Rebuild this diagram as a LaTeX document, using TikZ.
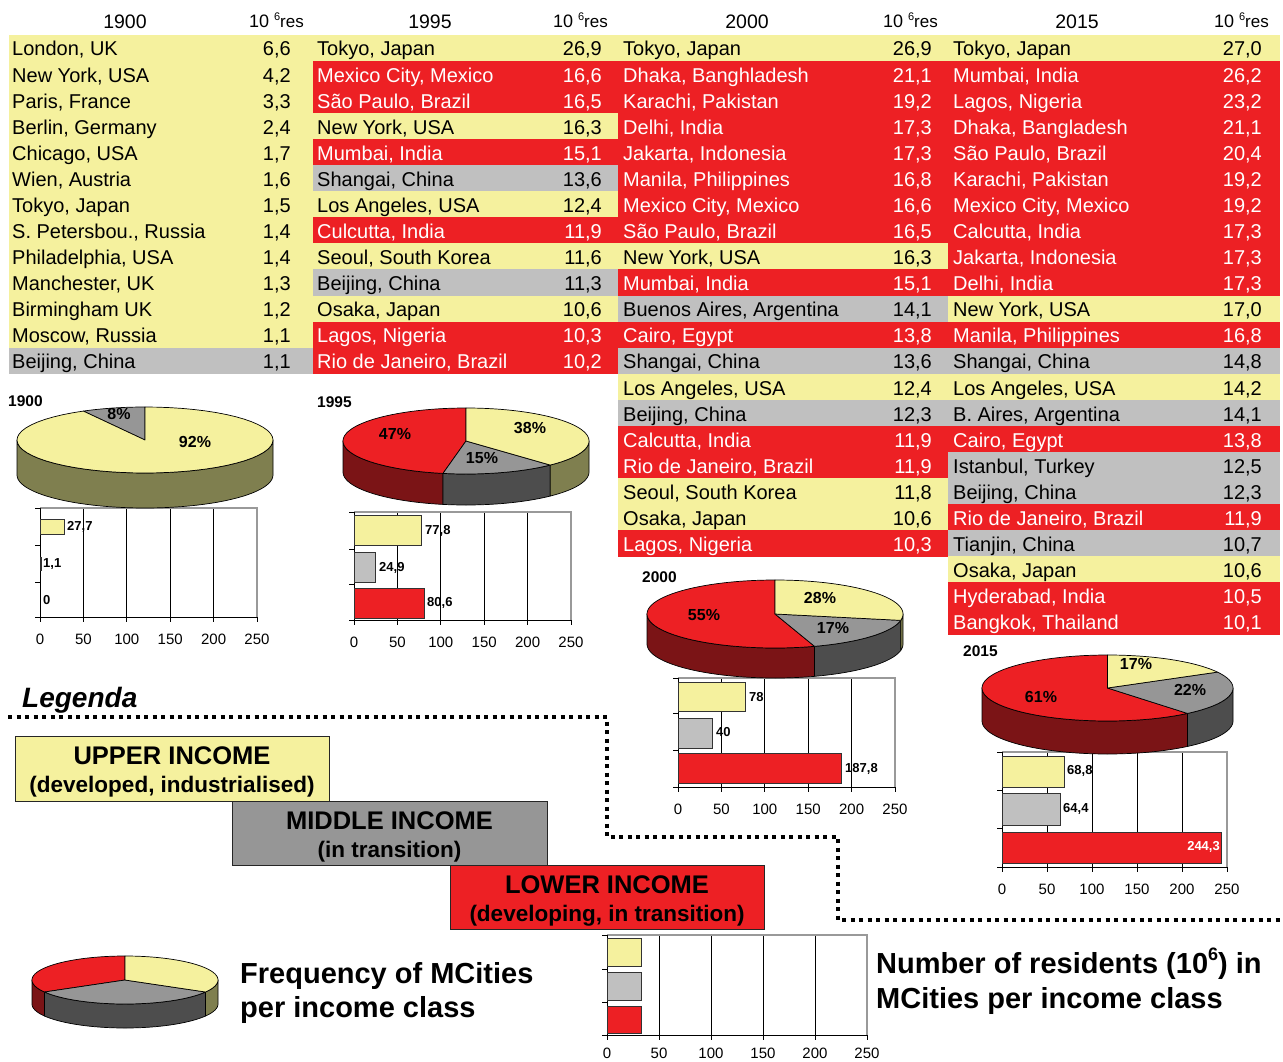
\documentclass[tikz,border=0pt]{standalone}
\usepackage{fontspec}
\setmainfont{Liberation Sans}
\newcommand\myfs[1]{\fontsize{#1}{#1}\selectfont}
\definecolor{cY}{HTML}{F5F19E}
\definecolor{cR}{HTML}{ED2024}
\definecolor{cG}{HTML}{C0C0C0}
\colorlet{tY}{black}
\colorlet{tR}{white}
\colorlet{tG}{black}
\definecolor{pG}{HTML}{969696}
\definecolor{yS}{HTML}{7F7F4F}
\definecolor{rS}{HTML}{7B1416}
\definecolor{gS}{HTML}{4D4D4D}
\tikzset{
  gridline/.style={black, line width=0.8},
  frameline/.style={black!40, line width=1.2},
  axisline/.style={black, line width=0.8},
  barbox/.style={draw=black!80, line width=0.8},
  pielbl/.style={font={\bfseries\myfs{16}}},
  barlbl/.style={font={\bfseries\myfs{13}}, anchor=west},
  yearlbl/.style={font={\bfseries\myfs{15.5}}, anchor=west},
  axlbl/.style={font={\myfs{15}}},
  legbox/.style={draw=black!85, line width=0.8, anchor=north west},
  dotline/.style={line width=4, dash pattern=on 4 off 4.5},
}
% table cell: x0, x1, nameX, valX, row, type, name, value, id
\newcommand\tcell[9]{%
  \pgfmathsetmacro\ytop{35+26.08*#5}
  \fill[c#6] (#1,\ytop-0.3) rectangle (#2,\ytop+26.38);
  \node[anchor=base west, text=t#6, font={\myfs{20}}] (n#9) at (#3,\ytop+21) {#7};
  \node[anchor=base east, text=t#6, font={\myfs{20}}] (v#9) at (#4,\ytop+21) {#8};
}
\newcommand\tabA[4]{\tcell{8.5}{313}{12}{291}{#1}{#2}{#3}{#4}{a#1}}
\newcommand\tabB[4]{\tcell{313}{618.5}{317}{602}{#1}{#2}{#3}{#4}{b#1}}
\newcommand\tabC[4]{\tcell{618}{948}{623}{932}{#1}{#2}{#3}{#4}{c#1}}
\newcommand\tabD[4]{\tcell{948}{1280}{953}{1262}{#1}{#2}{#3}{#4}{d#1}}
% pie top slice: cx, cy, rx, ry, a, b, color
\newcommand\ptop[7]{%
  \filldraw[fill=#7, draw=black, line width=0.7, line join=round]
    (#1,#2) -- plot[domain=#5:#6, samples=60, variable=\t] ({#1+#3*cos(\t)},{#2-#4*sin(\t)}) -- cycle;}
% pie side: cx, cy, rx, ry, depth, a, b, color
\newcommand\pside[8]{%
  \filldraw[fill=#8, draw=black, line width=0.7, line join=round]
    plot[domain=#6:#7, samples=50, variable=\t] ({#1+#3*cos(\t)},{#2-#4*sin(\t)})
    -- plot[domain=#7:#6, samples=50, variable=\t] ({#1+#3*cos(\t)},{#2+#5-#4*sin(\t)}) -- cycle;}
% chart frame: x0, scale, ytop, t1, t2, ybot, prefix, label offset
\newcommand\chartframe[8]{%
  \foreach \v in {50,100,150,200}{\draw[gridline] ({#1+\v*#2},#3) -- ({#1+\v*#2},#6);}
  \draw[frameline] (#1,#3) -- ({#1+250*#2},#3) -- ({#1+250*#2},#6);
  \draw[axisline] (#1,#3) -- (#1,#6) -- ({#1+250*#2},#6);
  \foreach \yy in {#3,#4,#5,#6}{\draw[axisline] (#1-5,\yy) -- (#1,\yy);}
  \foreach \v in {0,50,100,150,200,250}{%
    \draw[axisline] ({#1+\v*#2},#6) -- ({#1+\v*#2},#6+4.5);
    \node[axlbl] (#7\v) at ({#1+\v*#2},#6+#8) {\v};}
}
\begin{document}
\begin{tikzpicture}[x=1pt,y=-1pt, every node/.style={inner sep=0pt}]
\fill[white] (0,0) rectangle (1283,1062);
\useasboundingbox (0,0) rectangle (1283,1062);

% ---------- headers ----------
\node[anchor=base, font={\myfs{19.5}}] (h1900) at (125,29) {1900};
\node[anchor=base, font={\myfs{19.5}}] (h1995) at (430,29) {1995};
\node[anchor=base, font={\myfs{19.5}}] (h2000) at (747,29) {2000};
\node[anchor=base, font={\myfs{19.5}}] (h2015) at (1077,29) {2015};
\node[anchor=base east] (u1900) at (304,28) {\myfs{18}10 \raisebox{7pt}{\myfs{11}6}\myfs{17}res};
\node[anchor=base east] (u1995) at (608,28) {\myfs{18}10 \raisebox{7pt}{\myfs{11}6}\myfs{17}res};
\node[anchor=base east] (u2000) at (938,28) {\myfs{18}10 \raisebox{7pt}{\myfs{11}6}\myfs{17}res};
\node[anchor=base east] (u2015) at (1269,28) {\myfs{18}10 \raisebox{7pt}{\myfs{11}6}\myfs{17}res};

% ---------- 1900 ----------
\tabA{0}{Y}{London, UK}{6,6}
\tabA{1}{Y}{New York, USA}{4,2}
\tabA{2}{Y}{Paris, France}{3,3}
\tabA{3}{Y}{Berlin, Germany}{2,4}
\tabA{4}{Y}{Chicago, USA}{1,7}
\tabA{5}{Y}{Wien, Austria}{1,6}
\tabA{6}{Y}{Tokyo, Japan}{1,5}
\tabA{7}{Y}{S. Petersbou., Russia}{1,4}
\tabA{8}{Y}{Philadelphia, USA}{1,4}
\tabA{9}{Y}{Manchester, UK}{1,3}
\tabA{10}{Y}{Birmingham UK}{1,2}
\tabA{11}{Y}{Moscow, Russia}{1,1}
\tabA{12}{G}{Beijing, China}{1,1}

% ---------- 1995 ----------
\tabB{0}{Y}{Tokyo, Japan}{26,9}
\tabB{1}{R}{Mexico City, Mexico}{16,6}
\tabB{2}{R}{São Paulo, Brazil}{16,5}
\tabB{3}{Y}{New York, USA}{16,3}
\tabB{4}{R}{Mumbai, India}{15,1}
\tabB{5}{G}{Shangai, China}{13,6}
\tabB{6}{Y}{Los Angeles, USA}{12,4}
\tabB{7}{R}{Culcutta, India}{11,9}
\tabB{8}{Y}{Seoul, South Korea}{11,6}
\tabB{9}{G}{Beijing, China}{11,3}
\tabB{10}{Y}{Osaka, Japan}{10,6}
\tabB{11}{R}{Lagos, Nigeria}{10,3}
\tabB{12}{R}{Rio de Janeiro, Brazil}{10,2}

% ---------- 2000 ----------
\tabC{0}{Y}{Tokyo, Japan}{26,9}
\tabC{1}{R}{Dhaka, Banghladesh}{21,1}
\tabC{2}{R}{Karachi, Pakistan}{19,2}
\tabC{3}{R}{Delhi, India}{17,3}
\tabC{4}{R}{Jakarta, Indonesia}{17,3}
\tabC{5}{R}{Manila, Philippines}{16,8}
\tabC{6}{R}{Mexico City, Mexico}{16,6}
\tabC{7}{R}{São Paulo, Brazil}{16,5}
\tabC{8}{Y}{New York, USA}{16,3}
\tabC{9}{R}{Mumbai, India}{15,1}
\tabC{10}{G}{Buenos Aires, Argentina}{14,1}
\tabC{11}{R}{Cairo, Egypt}{13,8}
\tabC{12}{G}{Shangai, China}{13,6}
\tabC{13}{Y}{Los Angeles, USA}{12,4}
\tabC{14}{G}{Beijing, China}{12,3}
\tabC{15}{R}{Calcutta, India}{11,9}
\tabC{16}{R}{Rio de Janeiro, Brazil}{11,9}
\tabC{17}{Y}{Seoul, South Korea}{11,8}
\tabC{18}{Y}{Osaka, Japan}{10,6}
\tabC{19}{R}{Lagos, Nigeria}{10,3}

% ---------- 2015 ----------
\tabD{0}{Y}{Tokyo, Japan}{27,0}
\tabD{1}{R}{Mumbai, India}{26,2}
\tabD{2}{R}{Lagos, Nigeria}{23,2}
\tabD{3}{R}{Dhaka, Bangladesh}{21,1}
\tabD{4}{R}{São Paulo, Brazil}{20,4}
\tabD{5}{R}{Karachi, Pakistan}{19,2}
\tabD{6}{R}{Mexico City, Mexico}{19,2}
\tabD{7}{R}{Calcutta, India}{17,3}
\tabD{8}{R}{Jakarta, Indonesia}{17,3}
\tabD{9}{R}{Delhi, India}{17,3}
\tabD{10}{Y}{New York, USA}{17,0}
\tabD{11}{R}{Manila, Philippines}{16,8}
\tabD{12}{G}{Shangai, China}{14,8}
\tabD{13}{Y}{Los Angeles, USA}{14,2}
\tabD{14}{G}{B. Aires, Argentina}{14,1}
\tabD{15}{R}{Cairo, Egypt}{13,8}
\tabD{16}{G}{Istanbul, Turkey}{12,5}
\tabD{17}{G}{Beijing, China}{12,3}
\tabD{18}{R}{Rio de Janeiro, Brazil}{11,9}
\tabD{19}{G}{Tianjin, China}{10,7}
\tabD{20}{Y}{Osaka, Japan}{10,6}
\tabD{21}{R}{Hyderabad, India}{10,5}
\tabD{22}{R}{Bangkok, Thailand}{10,1}

% ---------- bar charts ----------
% 1900
\chartframe{40}{0.868}{508}{545}{582}{617}{xa}{22}
\filldraw[barbox, fill=cY] (40,519) rectangle ({40+27.7*0.868},534);
\filldraw[barbox, fill=cG] (40,557) rectangle (41,570);
\node[barlbl] (ba1) at (67,527) {27,7};
\node[barlbl] (ba2) at (43,564) {1,1};
\node[barlbl] (ba3) at (43,600) {0};
% 1995
\chartframe{354}{0.868}{512}{549}{584}{620}{xb}{22}
\filldraw[barbox, fill=cY] (354,515) rectangle ({354+77.8*0.868},545);
\filldraw[barbox, fill=cG] (354,552) rectangle ({354+24.9*0.868},582);
\filldraw[barbox, fill=cR] (354,588) rectangle ({354+80.6*0.868},618);
\node[barlbl] (bb1) at (425,531) {77,8};
\node[barlbl] (bb2) at (379,568) {24,9};
\node[barlbl] (bb3) at (427,603) {80,6};
% 2000
\chartframe{678}{0.868}{678}{713}{750}{787}{xc}{22}
\filldraw[barbox, fill=cY] (678,682) rectangle ({678+78*0.868},711);
\filldraw[barbox, fill=cG] (678,718) rectangle ({678+40*0.868},748);
\filldraw[barbox, fill=cR] (678,753) rectangle ({678+187.8*0.868},783);
\node[barlbl] (bc1) at (749,697) {78};
\node[barlbl] (bc2) at (716,732) {40};
\node[barlbl] (bc3) at (845,769) {187,8};
% 2015
\chartframe{1002}{0.9}{752}{790}{828}{867}{xd}{22}
\filldraw[barbox, fill=cY] (1002,756) rectangle ({1002+68.8*0.9},787);
\filldraw[barbox, fill=cG] (1002,793) rectangle ({1002+64.4*0.9},825);
\filldraw[barbox, fill=cR] (1002,832) rectangle ({1002+244.3*0.9},863);
\node[barlbl] (bd1) at (1067,771) {68,8};
\node[barlbl] (bd2) at (1063,809) {64,4};
\node[barlbl, anchor=east, text=white] (bd3) at (1220,847) {244,3};
% legend chart
\chartframe{607}{1.04}{935}{969}{1002}{1035}{xe}{18}
\filldraw[barbox, fill=cY] (607,938) rectangle ({607+33*1.04},966);
\filldraw[barbox, fill=cG] (607,972) rectangle ({607+33*1.04},1000);
\filldraw[barbox, fill=cR] (607,1006) rectangle ({607+33*1.04},1033);

% ---------- pies ----------
% 1900
\pside{145}{440}{128}{33}{35}{180}{360}{yS}
\ptop{145}{440}{128}{33}{90}{118.8}{pG}
\ptop{145}{440}{128}{33}{118.8}{450}{cY}
\node[yearlbl] (y1900) at (8,401) {1900};
\node[pielbl] (pa1) at (119,414) {8\%};
\node[pielbl] (pa2) at (195,442) {92\%};
% 1995
\pside{466}{441}{123}{33}{31}{180}{259.2}{rS}
\pside{466}{441}{123}{33}{31}{259.2}{313.2}{gS}
\pside{466}{441}{123}{33}{31}{313.2}{360}{yS}
\ptop{466}{441}{123}{33}{90}{259.2}{cR}
\ptop{466}{441}{123}{33}{259.2}{313.2}{pG}
\ptop{466}{441}{123}{33}{313.2}{450}{cY}
\node[yearlbl] (y1995) at (317,402) {1995};
\node[pielbl] (pb1) at (395,434) {47\%};
\node[pielbl] (pb2) at (530,428) {38\%};
\node[pielbl] (pb3) at (482,458) {15\%};
% 2000
\pside{775}{614}{128}{34}{30}{180}{288}{rS}
\pside{775}{614}{128}{34}{30}{288}{349.2}{gS}
\pside{775}{614}{128}{34}{30}{349.2}{360}{yS}
\ptop{775}{614}{128}{34}{90}{288}{cR}
\ptop{775}{614}{128}{34}{288}{349.2}{pG}
\ptop{775}{614}{128}{34}{349.2}{450}{cY}
\node[yearlbl] (y2000) at (642,577) {2000};
\node[pielbl] (pc1) at (704,615) {55\%};
\node[pielbl] (pc2) at (820,598) {28\%};
\node[pielbl] (pc3) at (833,628) {17\%};
% 2015
\pside{1107.5}{688}{125.5}{33}{33}{180}{309.6}{rS}
\pside{1107.5}{688}{125.5}{33}{33}{309.6}{360}{gS}
\ptop{1107.5}{688}{125.5}{33}{90}{309.6}{cR}
\ptop{1107.5}{688}{125.5}{33}{309.6}{388.8}{pG}
\ptop{1107.5}{688}{125.5}{33}{388.8}{450}{cY}
\node[yearlbl] (y2015) at (963,651) {2015};
\node[pielbl] (pd1) at (1041,697) {61\%};
\node[pielbl] (pd2) at (1136,664) {17\%};
\node[pielbl] (pd3) at (1190,690) {22\%};
% legend pie
\pside{125}{980}{93}{24}{24}{180}{210}{rS}
\pside{125}{980}{93}{24}{24}{210}{330}{gS}
\pside{125}{980}{93}{24}{24}{330}{360}{yS}
\ptop{125}{980}{93}{24}{90}{210}{cR}
\ptop{125}{980}{93}{24}{210}{330}{pG}
\ptop{125}{980}{93}{24}{330}{450}{cY}

% ---------- legend ----------
\node[anchor=base west, font={\bfseries\itshape\myfs{28}}] (legenda) at (22,707) {Legenda};
\coordinate (d1) at (8,717);
\coordinate (d2) at (607,717);
\coordinate (d3) at (607,837);
\coordinate (d4) at (838,837);
\coordinate (d5) at (838,920);
\coordinate (d6) at (1283,920);
\draw[dotline] (d1) -- (d2) -- (d3) -- (d4) -- (d5) -- (d6);

\node[legbox, fill=cY, minimum width=314pt, minimum height=65pt] (upper) at (15,736) {};
\node[legbox, fill=pG, minimum width=315pt, minimum height=64pt] (middle) at (232,801) {};
\node[legbox, fill=cR, minimum width=314pt, minimum height=64pt] (lower) at (450,865) {};
\node[anchor=base, font={\bfseries\myfs{25.5}}] (upperT) at (172,764) {UPPER INCOME};
\node[anchor=base, font={\bfseries\myfs{22.5}}] (upperS) at (172,792) {(developed, industrialised)};
\node[anchor=base, font={\bfseries\myfs{25.5}}] (middleT) at (389.5,829) {MIDDLE INCOME};
\node[anchor=base, font={\bfseries\myfs{22.5}}] (middleS) at (389.5,857) {(in transition)};
\node[anchor=base, font={\bfseries\myfs{25.5}}] (lowerT) at (607,893) {LOWER INCOME};
\node[anchor=base, font={\bfseries\myfs{22.5}}] (lowerS) at (607,921) {(developing, in transition)};

\node[anchor=base west, font={\bfseries\myfs{29}}] (freq1) at (240,983) {Frequency of MCities};
\node[anchor=base west, font={\bfseries\myfs{29}}] (freq2) at (240,1017) {per income class};
\node[anchor=base west, font={\bfseries\myfs{29}}] (num1) at (876,973) {Number of residents (10\raisebox{0.42em}{\myfs{18}6}) in};
\node[anchor=base west, font={\bfseries\myfs{29}}] (num2) at (876,1008) {MCities per income class};
\end{tikzpicture}
\end{document}
